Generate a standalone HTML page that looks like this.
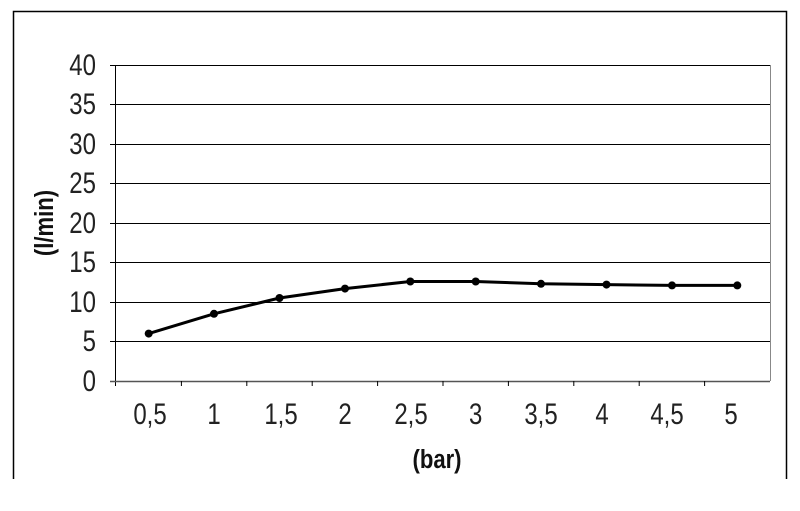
<!DOCTYPE html><html><head><style>body{margin:0;background:#fff}</style></head><body>
<svg width="800" height="506" xmlns="http://www.w3.org/2000/svg" font-family="Liberation Sans, sans-serif">
<rect width="800" height="506" fill="#fff"/>
<path d="M13.5 479V11.5H786.5V479" fill="none" stroke="#000" stroke-width="1.5"/>
<g stroke="#000" stroke-width="1">
<line x1="110" y1="65.5" x2="770" y2="65.5"/><line x1="110" y1="104.5" x2="770" y2="104.5"/><line x1="110" y1="144.5" x2="770" y2="144.5"/><line x1="110" y1="183.5" x2="770" y2="183.5"/><line x1="110" y1="223.5" x2="770" y2="223.5"/><line x1="110" y1="262.5" x2="770" y2="262.5"/><line x1="110" y1="302.5" x2="770" y2="302.5"/><line x1="110" y1="341.5" x2="770" y2="341.5"/>
</g>
<line x1="770.5" y1="65" x2="770.5" y2="381" stroke="#888"/>
<line x1="115.5" y1="65" x2="115.5" y2="386" stroke="#000"/>
<line x1="110" y1="381.5" x2="770" y2="381.5" stroke="#555" stroke-width="1.5"/>
<g stroke="#000"><line x1="181.4" y1="381" x2="181.4" y2="386"/><line x1="246.8" y1="381" x2="246.8" y2="386"/><line x1="312.2" y1="381" x2="312.2" y2="386"/><line x1="377.6" y1="381" x2="377.6" y2="386"/><line x1="443" y1="381" x2="443" y2="386"/><line x1="508.4" y1="381" x2="508.4" y2="386"/><line x1="573.8" y1="381" x2="573.8" y2="386"/><line x1="639.2" y1="381" x2="639.2" y2="386"/><line x1="704.6" y1="381" x2="704.6" y2="386"/></g>
<g font-size="30" fill="#222" text-anchor="end">
<text transform="translate(96,75) scale(0.8,1)">40</text><text transform="translate(96,114) scale(0.8,1)">35</text><text transform="translate(96,154) scale(0.8,1)">30</text><text transform="translate(96,193) scale(0.8,1)">25</text><text transform="translate(96,233) scale(0.8,1)">20</text><text transform="translate(96,272) scale(0.8,1)">15</text><text transform="translate(96,312) scale(0.8,1)">10</text><text transform="translate(96,351) scale(0.8,1)">5</text><text transform="translate(96,391) scale(0.8,1)">0</text>
</g>
<g font-size="30" fill="#222" text-anchor="middle">
<text transform="translate(150,424) scale(0.8,1)">0,5</text><text transform="translate(214,424) scale(0.8,1)">1</text><text transform="translate(281,424) scale(0.8,1)">1,5</text><text transform="translate(345,424) scale(0.8,1)">2</text><text transform="translate(411,424) scale(0.8,1)">2,5</text><text transform="translate(475.7,424) scale(0.8,1)">3</text><text transform="translate(541,424) scale(0.8,1)">3,5</text><text transform="translate(602,424) scale(0.8,1)">4</text><text transform="translate(667,424) scale(0.8,1)">4,5</text><text transform="translate(731,424) scale(0.8,1)">5</text>
</g>
<text transform="translate(437,468) scale(0.85,1)" font-size="26" font-weight="bold" text-anchor="middle" fill="#111">(bar)</text>
<text transform="translate(53,223) rotate(-90) scale(0.85,1)" font-size="26" font-weight="bold" text-anchor="middle" fill="#111">(l/min)</text>
<polyline fill="none" stroke="#000" stroke-width="3" points="148.7,333.6 214,313.8 279.5,298 345,288.6 410.3,281.5 475.7,281.5 541,283.8 606.5,284.6 672,285.4 737.3,285.4"/>
<g fill="#000">
<circle cx="148.7" cy="333.6" r="4"/><circle cx="214" cy="313.8" r="4"/><circle cx="279.5" cy="298" r="4"/><circle cx="345" cy="288.6" r="4"/><circle cx="410.3" cy="281.5" r="4"/><circle cx="475.7" cy="281.5" r="4"/><circle cx="541" cy="283.8" r="4"/><circle cx="606.5" cy="284.6" r="4"/><circle cx="672" cy="285.4" r="4"/><circle cx="737.3" cy="285.4" r="4"/>
</g>
</svg>
</body></html>
